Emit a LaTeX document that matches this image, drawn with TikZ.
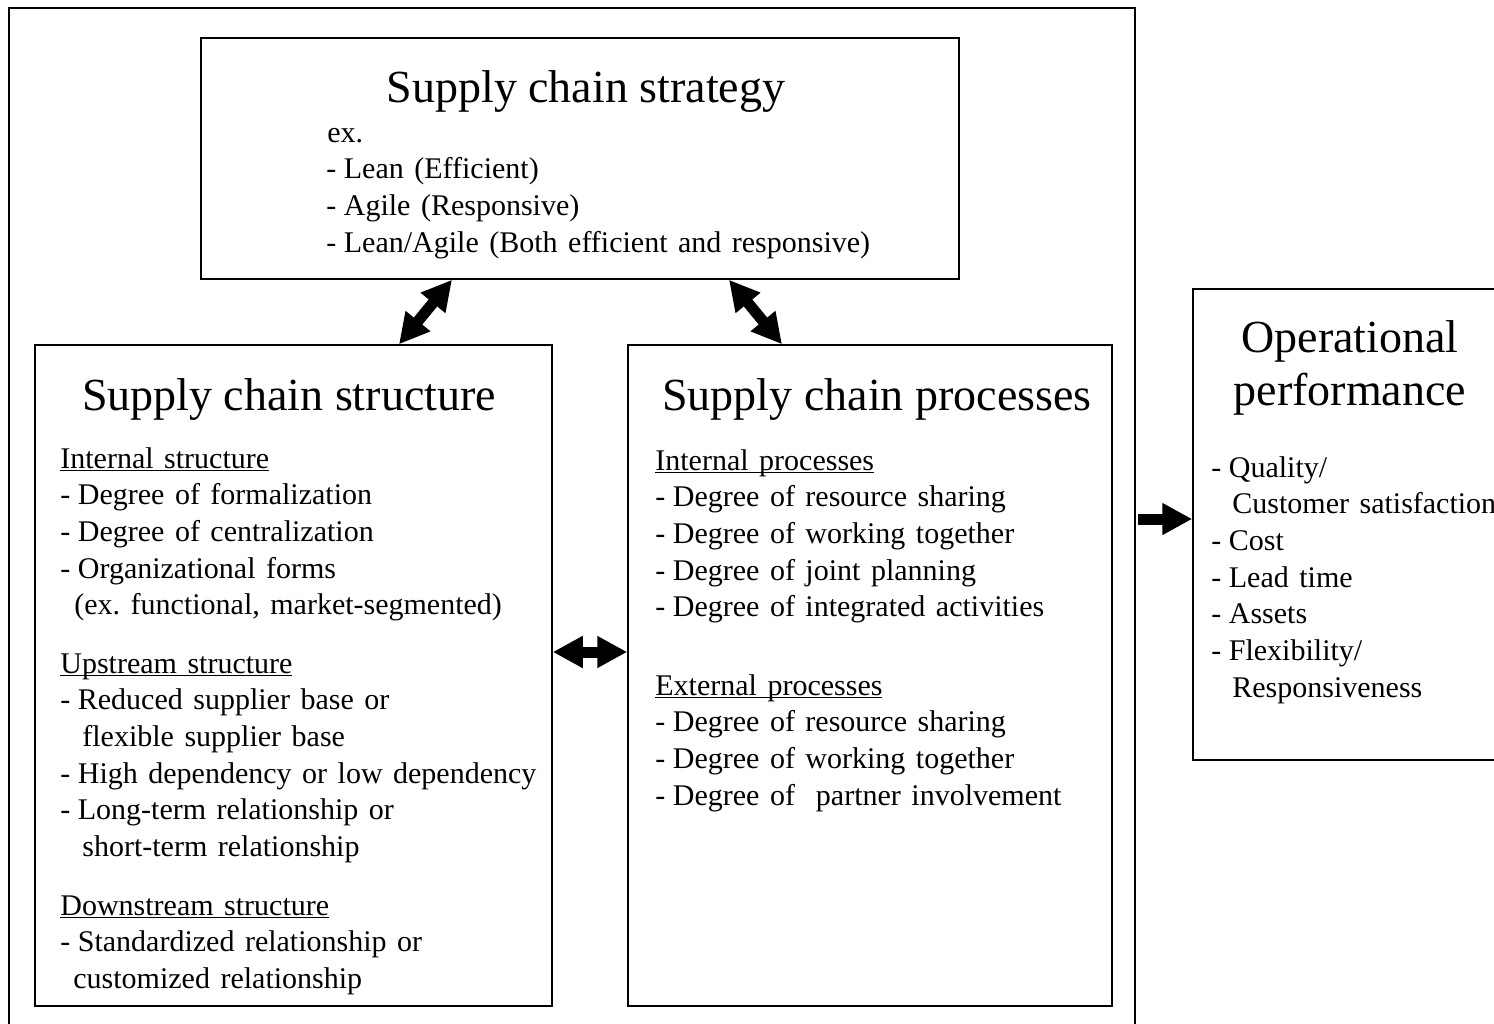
\documentclass[tikz,border=0pt]{standalone}
\usepackage{fontspec}
\setmainfont{Liberation Serif}
\usetikzlibrary{arrows.meta}

% underlined group heading, rule kept at the baseline
\newcommand{\hd}[1]{\underline{\smash{#1}}}
% list dash with a plain narrow gap after it
\newcommand{\dsh}{-\kern0.25em}

\begin{document}
\frenchspacing
\begin{tikzpicture}[x=0.5pt,y=-0.5pt,
    box/.style = {draw, line width=0.75pt, inner sep=0pt},
    title/.style = {font=\fontsize{23}{27}\selectfont, anchor=base, inner sep=0pt},
    item/.style = {font={\fontsize{15}{18}\selectfont\spaceskip=0.35em\relax}, anchor=base west, inner sep=0pt},
    dbl/.style = {line width=5.5pt, {Triangle[length=15pt,width=15pt]}-{Triangle[length=15pt,width=15pt]}},
    blk/.style = {line width=5.5pt, -{Triangle[length=15pt,width=15pt]}}]
\useasboundingbox (0,0) rectangle (1494,1023);

% boxes
\node[box, minimum width=563pt, minimum height=511pt] (frame) at (572,519) {};
\node[box, minimum width=379pt, minimum height=120.5pt] (strat) at (580,158.5) {};
\node[box, minimum width=258.5pt, minimum height=330.5pt] (struct) at (293.5,675.5) {};
\node[box, minimum width=242pt, minimum height=330.5pt] (proc) at (870,675.5) {};
\node[box, minimum width=160pt, minimum height=235.5pt] (oper) at (1353,524.5) {};

% arrows
\draw[dbl] ([xshift=-64pt]strat.south) -- ([xshift=52.75pt]struct.north);
\draw[dbl] ([xshift=74.5pt]strat.south) -- ([xshift=-44pt]proc.north);
\draw[dbl] ([yshift=11.75pt]struct.east) -- ([yshift=11.75pt]proc.west);
\draw[blk] ([xshift=1pt]frame.east) -- (frame.east -| oper.west);

% strategy
\node[title] (tstrat) at (586,102) {Supply chain strategy};
\node[item] (ex) at (327,142) {ex.};
\foreach \t [count=\i] in {Lean (Efficient), Agile (Responsive), {Lean/Agile (Both efficient and responsive)}}
    \node[item] (s\i) at (326,142+36.7*\i) {\dsh \t};

% structure
\node[title] (tstruct) at (289,410) {Supply chain structure};
\node[item] (hint) at (60,468) {\hd{Internal structure}};
\foreach \x/\t [count=\i] in {60/\dsh Degree of formalization, 60/\dsh Degree of centralization,
        60/\dsh Organizational forms, 74/{(ex. functional, market-segmented)}}
    \node[item] (a\i) at (\x,468+36.7*\i) {\t};
\node[item] (hup) at (60,673) {\hd{Upstream structure}};
\foreach \x/\t [count=\i] in {60/\dsh Reduced supplier base or, 82/flexible supplier base,
        60/\dsh High dependency or low dependency, 60/\dsh Long-term relationship or, 82/short-term relationship}
    \node[item] (b\i) at (\x,673+36.7*\i) {\t};
\node[item] (hdown) at (60,915) {\hd{Downstream structure}};
\foreach \x/\t [count=\i] in {60/\dsh Standardized relationship or, 73/customized relationship}
    \node[item] (c\i) at (\x,915+36.7*\i) {\t};

% processes
\node[title] (tproc) at (877,410) {Supply chain processes};
\node[item] (hpin) at (655,470) {\hd{Internal processes}};
\foreach \t [count=\i] in {resource sharing, working together, joint planning, integrated activities}
    \node[item] (p\i) at (655,470+36.7*\i) {\dsh Degree of \t};
\node[item] (hpex) at (655,695) {\hd{External processes}};
\foreach \t [count=\i] in {resource sharing, working together, \ partner involvement}
    \node[item] (q\i) at (655,695+36.7*\i) {\dsh Degree of \t};

% performance
\node[title] (toper1) at (1350,352) {Operational};
\node[title] (toper2) at (1350,405) {performance};
\foreach \x/\t [count=\i] in {1211/{\dsh Quality/}, 1232/Customer satisfaction, 1211/\dsh Cost, 1211/\dsh Lead time,
        1211/\dsh Assets, 1211/{\dsh Flexibility/}, 1232/Responsiveness}
    \node[item] (o\i) at (\x,477+36.7*\i-36.7) {\t};
\end{tikzpicture}
\end{document}
